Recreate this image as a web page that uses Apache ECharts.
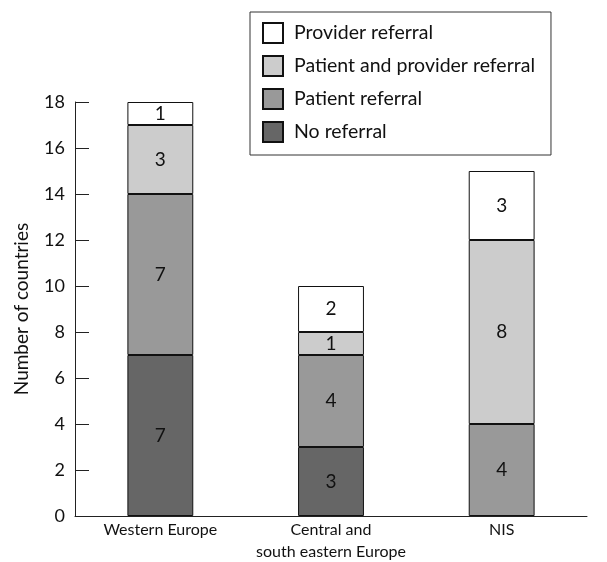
<!DOCTYPE html>
<html>
<head>
<meta charset="utf-8">
<script src="https://cdn.jsdelivr.net/npm/echarts@6/dist/echarts.min.js"></script>
<style>html,body{margin:0;padding:0;background:#fff}#c{width:607px;height:562px}</style>
</head>
<body>
<div id="c"></div>
<script>
var categories = ['Western Europe', 'Central and\nsouth eastern Europe', 'NIS'];
var noReferral = [7, 3, 0];
var patientReferral = [7, 4, 4];
var patientProvider = [3, 1, 8];
var providerReferral = [1, 2, 3];
var yTicks = [0, 2, 4, 6, 8, 10, 12, 14, 16, 18];

var FONT = 'Lato';
var chart = echarts.init(document.getElementById('c'));
function s(name, data, color) {
  return {
    name: name, type: 'bar', stack: 'a', data: data.map(function(v){return v === 0 ? null : v;}),
    barWidth: '38.6%',
    itemStyle: { color: color, borderColor: '#111', borderWidth: 1 },
    label: { show: true, position: 'inside', color: '#111', fontSize: 19, fontFamily: FONT },
    emphasis: { disabled: true }
  };
}
chart.setOption({
  animation: false,
  textStyle: { fontFamily: FONT },
  grid: { left: 75, right: 20, top: 102, bottom: 46, outerBoundsMode: 'none', containLabel: false },
  legend: {
    left: 250, top: 12, orient: 'vertical', icon: 'rect',
    data: ['Provider referral', 'Patient and provider referral', 'Patient referral', 'No referral'],
    itemWidth: 20, itemHeight: 20, itemGap: 11,
    padding: [10, 16, 12, 12],
    borderColor: '#333', borderWidth: 1,
    textStyle: { fontSize: 19.5, color: '#111', fontFamily: FONT, padding: [0, 0, 0, 6] },
    selectedMode: false
  },
  xAxis: {
    type: 'category', data: categories,
    axisLine: { lineStyle: { color: '#222', width: 1 } },
    axisTick: { inside: true, length: 14, lineStyle: { color: '#222' } },
    axisLabel: { interval: 0, color: '#111', fontSize: 16, fontFamily: FONT, margin: 3, lineHeight: 22 }
  },
  yAxis: {
    type: 'value', min: 0, max: 18, interval: 2,
    name: 'Number of countries', nameLocation: 'middle', nameGap: 44,
    nameTextStyle: { fontSize: 19, color: '#111', fontFamily: FONT },
    axisLine: { show: true, lineStyle: { color: '#222' } },
    axisTick: { show: true, inside: true, length: 14, lineStyle: { color: '#222' } },
    axisLabel: { color: '#111', fontSize: 18, fontFamily: FONT, margin: 10,
      formatter: function(v){ return yTicks.indexOf(v) >= 0 ? String(v) : ''; } },
    splitLine: { show: false }
  },
  series: [
    s('No referral', noReferral, '#666666'),
    s('Patient referral', patientReferral, '#999999'),
    s('Patient and provider referral', patientProvider, '#cccccc'),
    s('Provider referral', providerReferral, '#ffffff')
  ]
});
</script>
</body>
</html>
